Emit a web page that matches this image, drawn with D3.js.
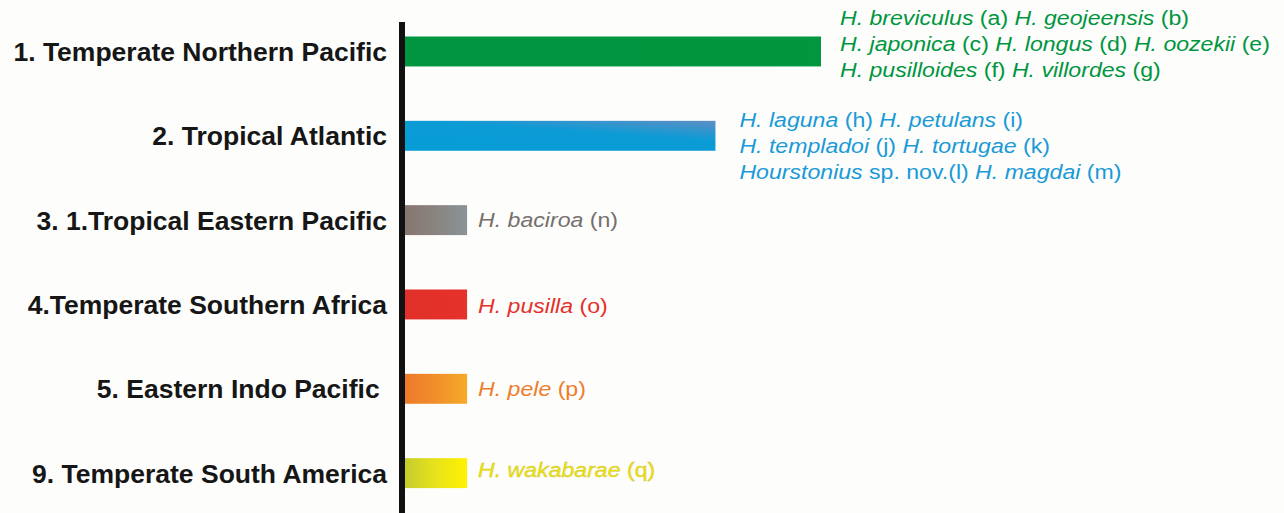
<!DOCTYPE html>
<html>
<head>
<meta charset="utf-8">
<script src="https://cdn.jsdelivr.net/npm/d3@7"></script>
<style>
  html, body { margin: 0; padding: 0; background: #fdfdfc; }
  #graphicContainer { width: 1284px; height: 513px; }
  text { font-family: "Liberation Sans", Arial, Helvetica, sans-serif; }
</style>
</head>
<body>
<div id="graphicContainer"></div>
<script>

// provinces, top to bottom
const provinces = [
  "1. Temperate Northern Pacific",
  "2. Tropical Atlantic",
  "3. 1.Tropical Eastern Pacific",
  "4.Temperate Southern Africa",
  "5. Eastern Indo Pacific ",
  "9. Temperate South America"
]

// bar lengths as drawn (relative units)
const barValues = [6.7, 5.0, 1, 1, 1, 1]

// number of species per province
const speciesCount = [7, 6, 1, 1, 1, 1]

// species per province, *...* = italic
const speciesLines = [
  ["*H. breviculus* (a) *H. geojeensis* (b)",
   "*H. japonica* (c) *H. longus* (d) *H. oozekii* (e)",
   "*H. pusilloides* (f) *H. villordes* (g)"],
  ["*H. laguna* (h) *H. petulans* (i)",
   "*H. templadoi* (j) *H. tortugae* (k)",
   "*Hourstonius* sp. nov.(l) *H. magdai* (m)"],
  ["*H. baciroa* (n)"],
  ["*H. pusilla* (o)"],
  ["*H. pele* (p)"],
  ["*H. wakabarae* (q)"]
]

// gradient stops for each bar, and text colour
const barColors = [
  ["#00963f", "#00963f", "#00973f"],
  ["#079cd6", "#0c9bd5", "#5e8ec4"],
  ["#887670", "#898480", "#8a9398"],
  ["#e12f2a", "#e3312a", "#e5332b"],
  ["#ee7a2b", "#f18f2a", "#f5aa27"],
  ["#c4cd2d", "#e8e31a", "#fff200"]
]
const textColors = ["#00963f", "#1a9ad6", "#76706d", "#e4312b", "#ee7d2c", "#f0e200"]

const width = 1284
const height = 513
const axisX = 405
const labelGap = [19, 24, 11, 11, 11, 11]
const blockShift = [-7.8, 9.9, 0, 1, 0, -3]
const lineHeight = 26
const speciesSize = 21
const stretch = 1.1

const svg = d3.select("#graphicContainer").append("svg")
  .attr("width", width)
  .attr("height", height)

const defs = svg.append("defs")

barColors.forEach((c, i) => {
  // the blue bar fades from the bottom-left to the top-right
  const diag = (i == 1)
  const g = defs.append("linearGradient")
  .attr("id", "grad" + i)
  .attr("x1", diag ? "30%" : "0%").attr("x2", "100%")
  .attr("y1", diag ? "100%" : "0%").attr("y2", "0%")
  g.append("stop").attr("offset", "0%").attr("stop-color", c[0])
  g.append("stop").attr("offset", diag ? "55%" : "50%").attr("stop-color", c[1])
  g.append("stop").attr("offset", "100%").attr("stop-color", c[2])
})

const x = d3.scaleLinear()
  .domain([0, 6.7])
  .range([axisX, 821])

const y = d3.scaleBand()
  .domain(provinces)
  .range([9.3, 515.3])
  .paddingInner(0.645)
  .paddingOuter(0.3225)

const data = provinces.map((p, i) => ({
  province: p,
  value: barValues[i],
  count: speciesCount[i],
  lines: speciesLines[i],
  i: i
}))

console.log("data", data)

// bars
svg.append("g")
  .selectAll("rect")
  .data(data)
  .enter()
  .append("rect")
  .attr("x", x(0))
  .attr("y", d => y(d.province))
  .attr("width", d => x(d.value) - x(0))
  .attr("height", y.bandwidth())
  .attr("fill", d => `url(#grad${d.i})`)

// left axis line
svg.append("line")
  .attr("x1", x(0) - 3)
  .attr("x2", x(0) - 3)
  .attr("y1", 22)
  .attr("y2", height)
  .attr("stroke", "#111")
  .attr("stroke-width", 6)

// province labels
svg.append("g")
  .selectAll("text")
  .data(data)
  .enter()
  .append("text")
  .attr("x", 387)
  .attr("y", d => y(d.province) + y.bandwidth() / 2)
  .attr("dy", "0.36em")
  .attr("text-anchor", "end")
  .style("font-size", "26.5px")
  .style("font-weight", "bold")
  .style("white-space", "pre")
  .attr("fill", "#161616")
  .text(d => d.province)

// species annotations
const parts = (line) => line.split("*").map((s, k) => ({ s: s, it: k % 2 == 1 })).filter(p => p.s != "")

data.forEach(d => {

  const cy = y(d.province) + y.bandwidth() / 2
  const n = d.lines.length
  const x0 = x(d.value) + labelGap[d.i]
  const firstBase = cy + speciesSize * 0.35 - (n - 1) * lineHeight / 2 + blockShift[d.i]

  d.lines.forEach((line, j) => {

    const t = svg.append("text")
      .attr("transform", `translate(${x0},${firstBase + j * lineHeight}) scale(${stretch},1)`)
      .style("font-size", speciesSize + "px")
      .style("white-space", "pre")
      .attr("fill", textColors[d.i])

    if (d.i == 5) {
      t.attr("stroke", "#cfc84a").attr("stroke-width", 0.4)
    }

    parts(line).forEach(p => {
      t.append("tspan")
        .style("font-style", p.it ? "italic" : "normal")
        .text(p.s)
    })

  })

})

</script>
</body>
</html>
